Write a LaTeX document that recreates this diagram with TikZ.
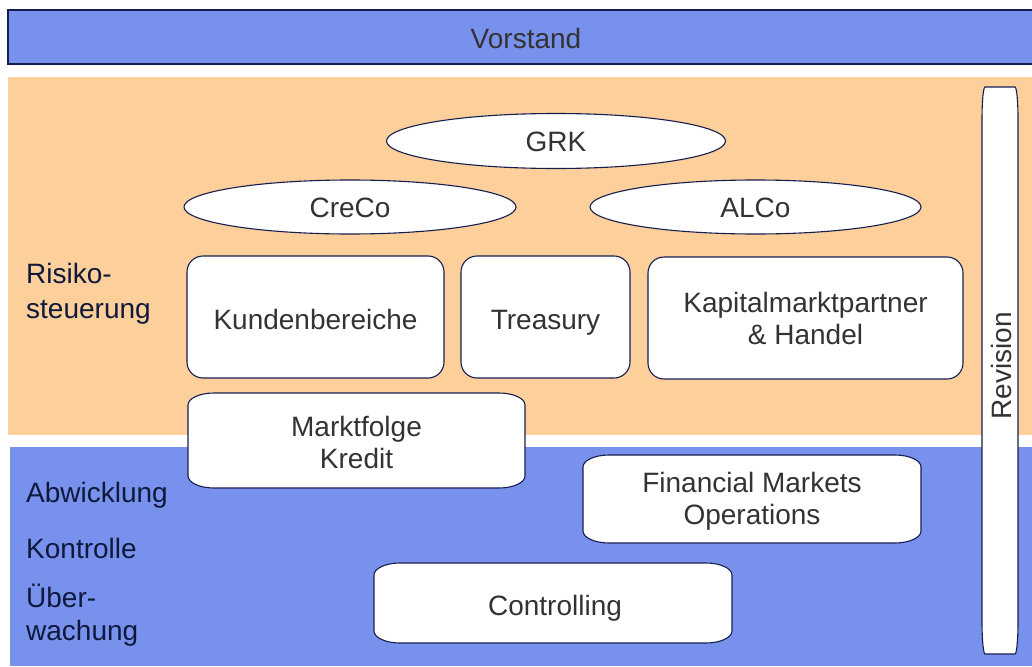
\documentclass[tikz,border=0pt]{standalone}
\usepackage{fontspec}
\setmainfont{Liberation Sans}
\usetikzlibrary{shapes.geometric}
\definecolor{bandblue}{RGB}{120,145,236}
\definecolor{bandorange}{RGB}{252,207,155}
\definecolor{edgenavy}{RGB}{22,30,80}
\definecolor{boxtext}{RGB}{51,51,51}
\definecolor{sidetext}{RGB}{15,25,60}
\newcommand\plaque[7][]{%
  \draw[plaquebox,#1] ({#2+#6},#3) -- ({#4-#6},#3)
    .. controls ({#4-0.45*#6},#3) and (#4,{#3+0.45*#7}) .. (#4,{#3+#7})
    -- (#4,{#5-#7})
    .. controls (#4,{#5-0.45*#7}) and ({#4-0.45*#6},#5) .. ({#4-#6},#5)
    -- ({#2+#6},#5)
    .. controls ({#2+0.45*#6},#5) and (#2,{#5-0.45*#7}) .. (#2,{#5-#7})
    -- (#2,{#3+#7})
    .. controls (#2,{#3+0.45*#7}) and ({#2+0.45*#6},#3) .. cycle;}
\begin{document}
\begin{tikzpicture}[x=1pt,y=-1pt,
  txt/.style={text=boxtext,font=\fontsize{28}{32}\selectfont,align=center},
  one/.style={text height=20pt,text depth=0pt},
  onelow/.style={text height=24pt,text depth=0pt},
  side/.style={text=sidetext,font=\fontsize{28}{32}\selectfont,anchor=base west,inner sep=0pt},
  oval/.style={ellipse,draw=edgenavy,line width=1.1pt,fill=white,inner sep=0pt,txt,one},
  rbox/.style={rectangle,rounded corners=16pt,draw=edgenavy,line width=1.1pt,fill=white,inner sep=0pt,txt},
  plaquebox/.style={draw=edgenavy,line width=1.1pt,fill=white}]
\useasboundingbox (0,0) rectangle (1032,666);
% bands
\fill[bandorange] (8,77) rectangle (1032,435);
\fill[bandblue] (10,447) rectangle (1032,666);
\fill[bandblue] (8,10) rectangle (1032,64);
\draw[edgenavy,line width=1.4pt] (1032,10) -- (8,10) -- (8,64) -- (1032,64);
\node[txt,one] (vorstand) at (526,39) {Vorstand};
% revision
\plaque{982}{87}{1018}{654}{3}{32}
\node[txt,rotate=90,one] (revision) at (1001,366) {Revision};
% committees
\node[oval,minimum width=339pt,minimum height=55pt] (grk) at (556,141) {GRK};
\node[oval,minimum width=332pt,minimum height=54pt] (creco) at (350,207) {CreCo};
\node[oval,minimum width=331pt,minimum height=54pt] (alco) at (755.5,207) {ALCo};
% units
\node[rbox,onelow,minimum width=257pt,minimum height=122pt] (kunden) at (315.5,317) {Kundenbereiche};
\node[rbox,onelow,minimum width=169pt,minimum height=122pt] (treasury) at (545.5,317) {Treasury};
\node[rbox,minimum width=315pt,minimum height=122pt] (kapital) at (805.5,318) {Kapitalmarktpartner\\\& Handel};
% plaques
\plaque{188}{393}{525}{488}{26}{12}
\node[txt] (marktfolge) at (356.5,442) {Marktfolge\\Kredit};
\plaque{583}{455}{921}{543}{26}{12}
\node[txt] (fmo) at (752,501) {Financial Markets\\Operations};
\plaque{374}{563}{732}{643}{26}{12}
\node[txt,onelow] (controlling) at (555,603) {Controlling};
% side labels
\node[side] (risiko) at (26,283) {Risiko-};
\node[side] (steuerung) at (26,318) {steuerung};
\node[side] (abwicklung) at (26,502) {Abwicklung};
\node[side] (kontrolle) at (26,558) {Kontrolle};
\node[side] (ueber) at (26,607) {Über-};
\node[side] (wachung) at (26,640) {wachung};
\end{tikzpicture}
\end{document}
